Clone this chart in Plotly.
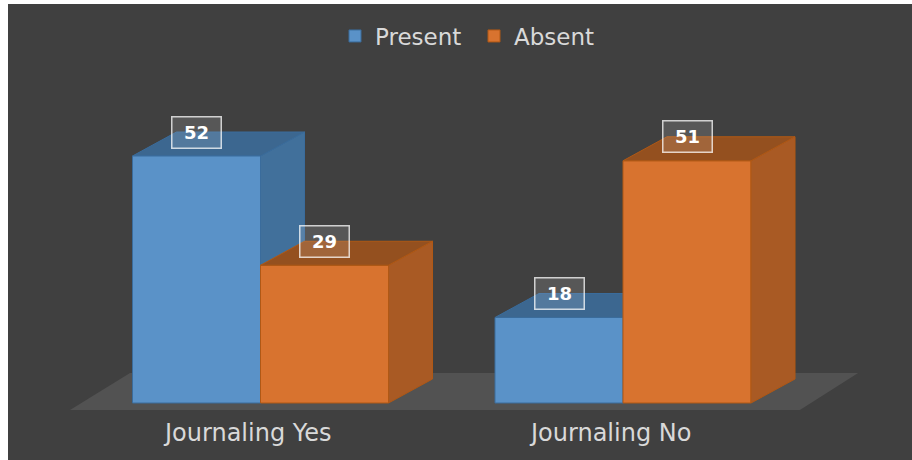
import plotly.graph_objects as go

# ---- data ----
categories = ["Journaling Yes", "Journaling No"]
series_names = ["Present", "Absent"]
present_values = [52, 18]
absent_values = [29, 51]

# ---- style ----
W, H = 912, 460
ML, MT = 8, 4
px_per_cat = 362.5
px_per_unit = 4.75
base_px_x = 260.5   # pixel of category 0 centre
base_px_y = 403     # pixel of value 0
FONT = "DejaVu Sans"

bar_w = 128 / px_per_cat
dx = 44 / px_per_cat
dy = 24 / px_per_unit

x0 = -(base_px_x - ML) / px_per_cat
x1 = x0 + (W - ML) / px_per_cat
y1 = (base_px_y - MT) / px_per_unit
y0 = y1 - (H - MT) / px_per_unit

styles = {
    "Present": dict(front="#5a92c8", side="#41709b", top="#3c6790", edge="#3a6c9c"),
    "Absent": dict(front="#d8732f", side="#a95a24", top="#94501f", edge="#b05815"),
}

fig = go.Figure()
shapes = []

# floor
fl_front = -7 / px_per_unit
fl_back = 30 / px_per_unit
fl_dx = 60 / px_per_cat
fl_left = -0.5255
fl_right = 1.488
shapes.append(dict(
    type="path", xref="x", yref="y", layer="below",
    path=f"M{fl_left},{fl_front} L{fl_right},{fl_front} L{fl_right+fl_dx*0.97},{fl_back} L{fl_left+fl_dx},{fl_back} Z",
    fillcolor="#525252", line=dict(width=0)))

def faces(a, b, v, st, layer):
    side = f"M{b},0 L{b+dx},{dy} L{b+dx},{v+dy} L{b},{v} Z"
    top = f"M{a},{v} L{a+dx},{v+dy} L{b+dx},{v+dy} L{b},{v} Z"
    return [
        dict(type="path", xref="x", yref="y", layer=layer, path=side,
             fillcolor=st["side"], line=dict(color=st["edge"], width=1)),
        dict(type="path", xref="x", yref="y", layer=layer, path=top,
             fillcolor=st["top"], line=dict(color=st["edge"], width=1)),
    ]

annotations = []
for name, vals, off in [("Present", present_values, -bar_w), ("Absent", absent_values, 0.0)]:
    st = styles[name]
    xs = list(range(len(categories)))
    fig.add_trace(go.Bar(
        x=xs, y=vals, width=bar_w, offset=off, name=name,
        marker=dict(color=st["front"], line=dict(color=st["edge"], width=1)),
        hoverinfo="skip"))
    for i, v in zip(xs, vals):
        a = i + off
        b = a + bar_w
        shapes += faces(a, b, v, st, "below" if name == "Present" else "above")
        annotations.append(dict(
            x=a + bar_w / 2, y=v + dy, xref="x", yref="y", text=f"<b>{v}</b>",
            showarrow=False, font=dict(family=FONT, size=18, color="white"),
            bgcolor="rgba(255,255,255,0.12)", bordercolor="rgba(255,255,255,0.75)",
            borderwidth=1.5, borderpad=3, width=42, height=24))

for i, c in enumerate(categories):
    annotations.append(dict(
        x=i - 0.035, y=(base_px_y - 433) / px_per_unit, xref="x", yref="y", text=c,
        showarrow=False, font=dict(family=FONT, size=24, color="#d9d9d9")))

fig.update_layout(
    width=W, height=H,
    margin=dict(l=ML, r=0, t=MT, b=0, pad=0),
    paper_bgcolor="#ffffff", plot_bgcolor="#404040",
    barmode="overlay",
    shapes=shapes, annotations=annotations,
    showlegend=True,
    legend=dict(orientation="h", x=(335 - ML) / (W - ML), xanchor="left",
                y=(H - 36) / (H - MT), yanchor="middle", itemwidth=30,
                entrywidth=94, entrywidthmode="pixels",
                bgcolor="rgba(0,0,0,0)", font=dict(family=FONT, size=23, color="#d9d9d9")),
    xaxis=dict(range=[x0, x1], showgrid=False, zeroline=False, showticklabels=False, fixedrange=True),
    yaxis=dict(range=[y0, y1], showgrid=False, zeroline=False, showticklabels=False, fixedrange=True),
    hovermode=False,
)

fig.write_html("out.html")
